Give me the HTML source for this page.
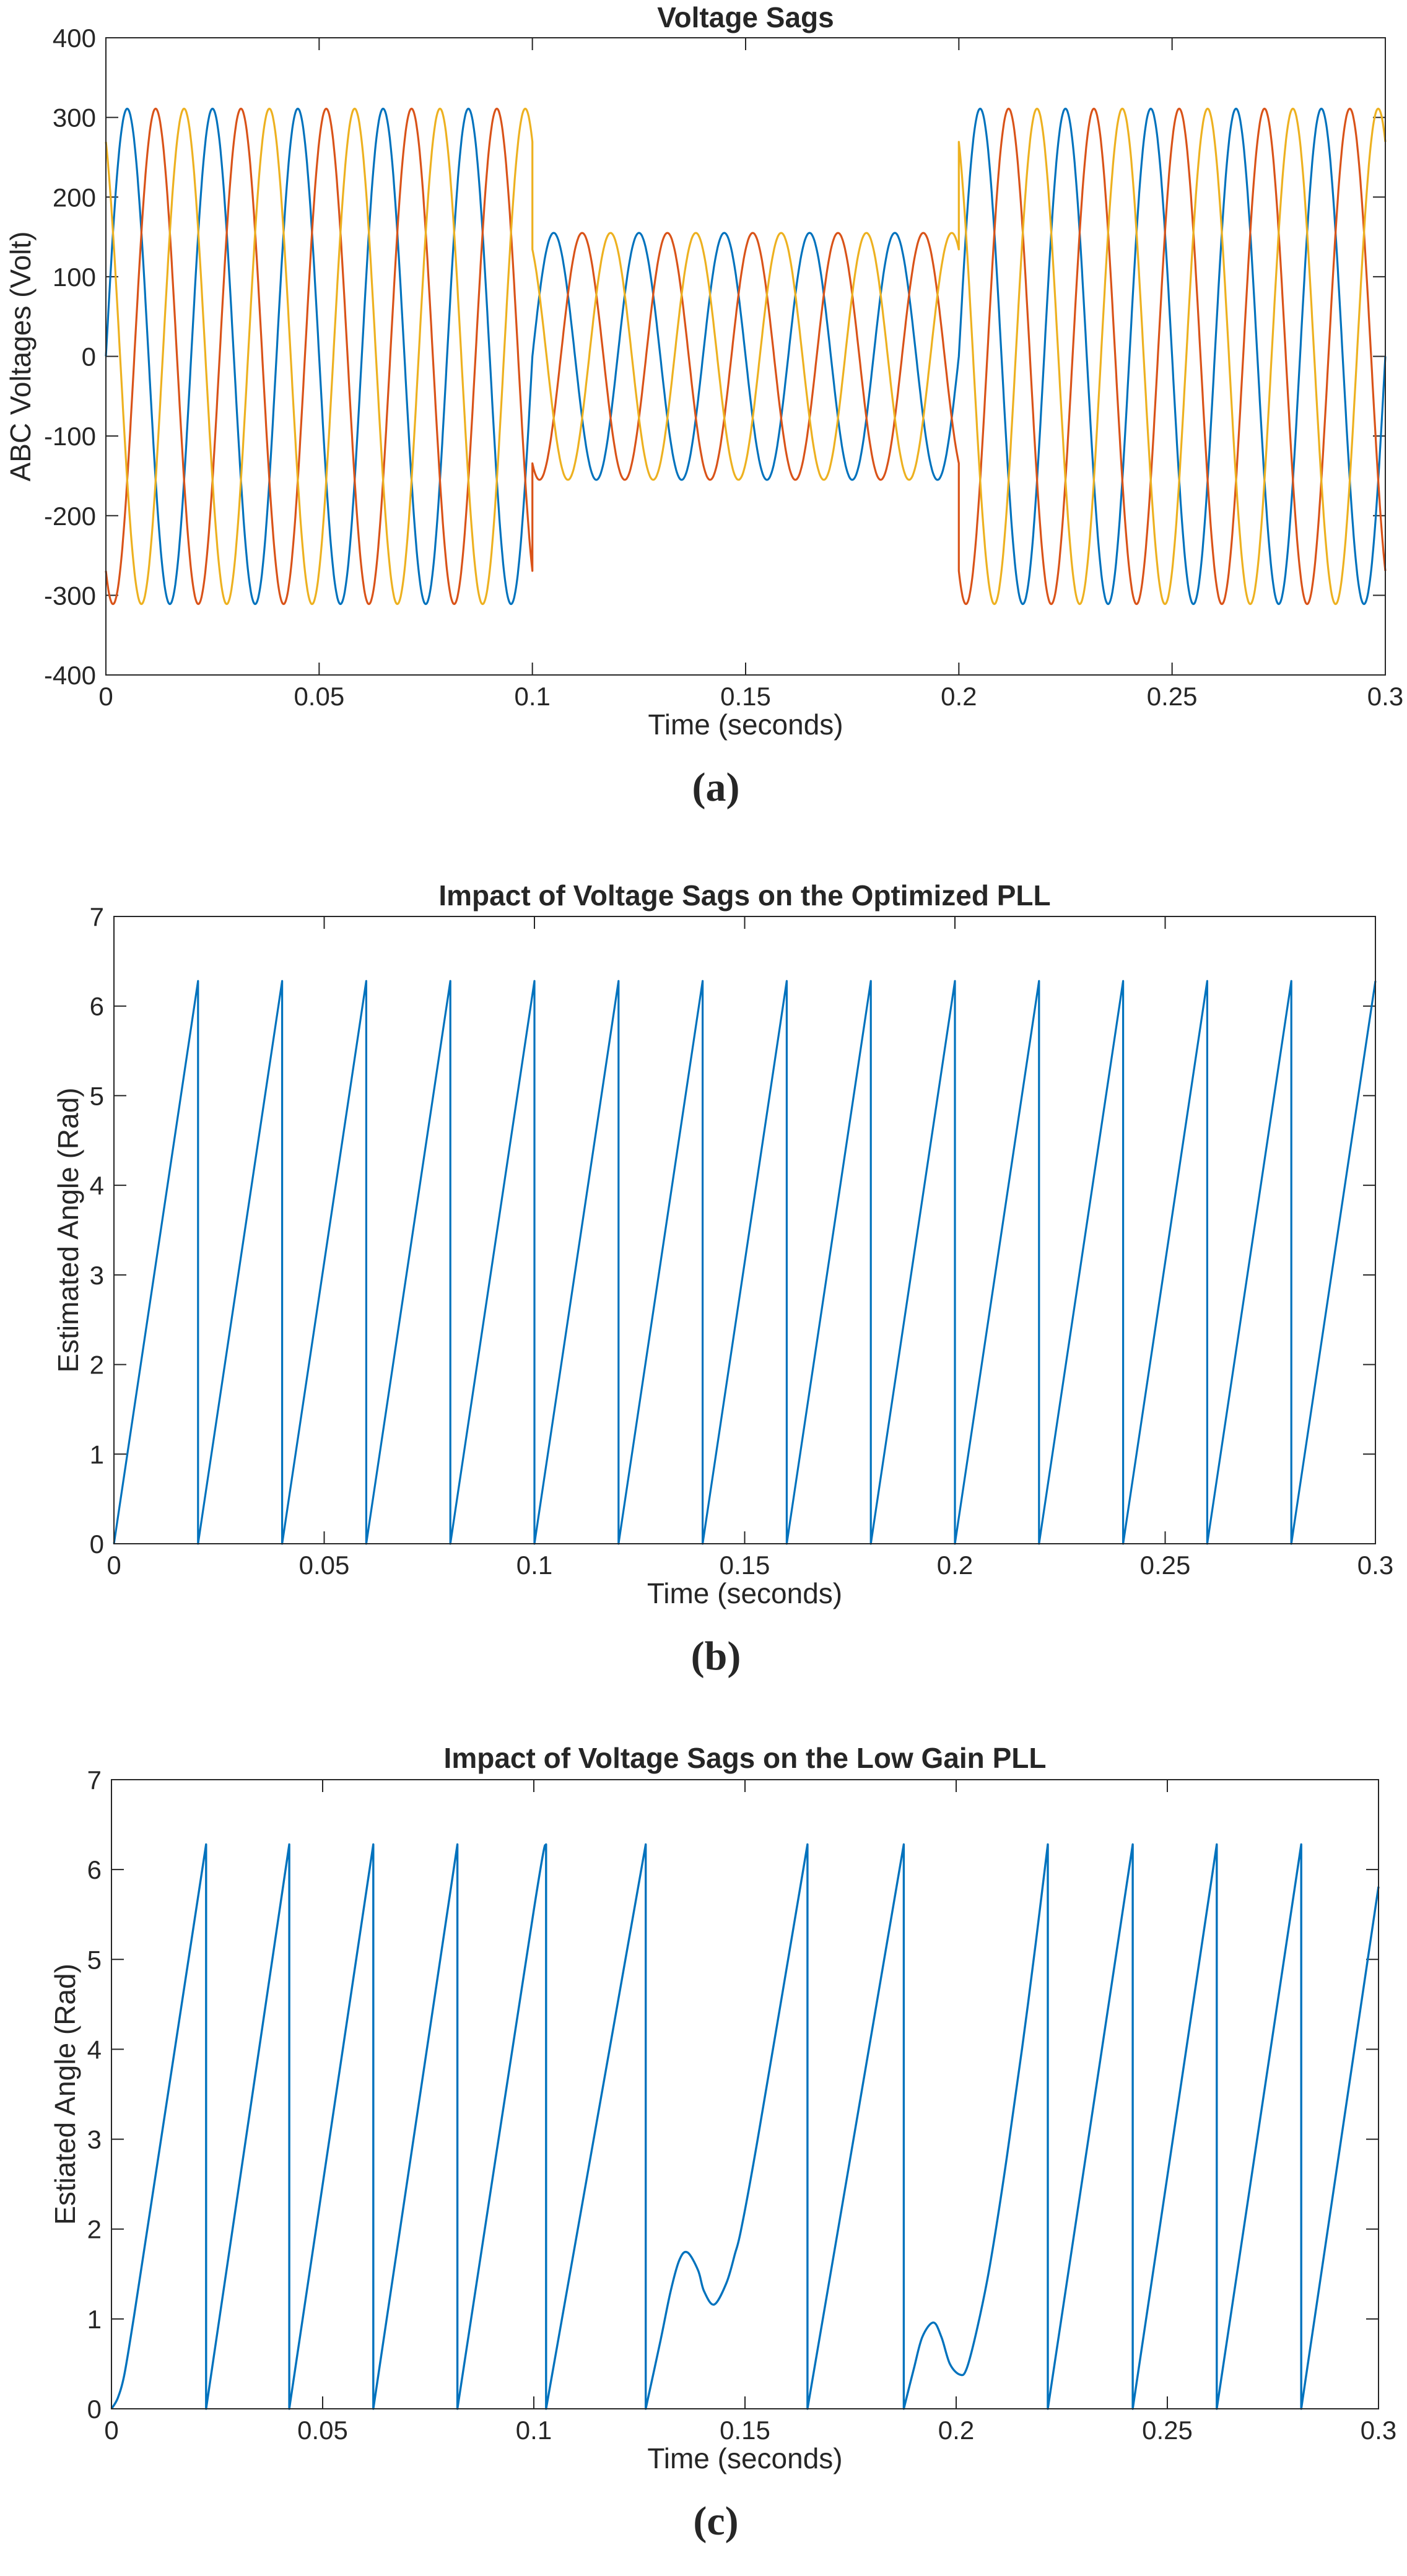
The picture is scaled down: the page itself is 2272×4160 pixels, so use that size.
<!DOCTYPE html>
<html><head><meta charset="utf-8"><style>
html,body{margin:0;padding:0;background:#fff;}
svg{display:block;}
text{font-family:"Liberation Sans",sans-serif;fill:#262626;}
</style></head><body>
<svg id="fig" xmlns="http://www.w3.org/2000/svg" width="2272" height="4160" viewBox="0 0 2272 4160"></svg>
<script>
// ---------- Chart (a) data ----------
const aSegStart = [0, 0.1, 0.2];
const aSegEnd = [0.1, 0.2, 0.3];
const aAmplitude = [311, 155, 311];
const aFreqHz = 50;
const aPhaseNames = ['phase-a', 'phase-b', 'phase-c'];
const aPhaseDeg = [0, -120, 120];
const aYTicks = [-400, -300, -200, -100, 0, 100, 200, 300, 400];
const xTicks = [0, 0.05, 0.1, 0.15, 0.2, 0.25, 0.3];
const xTickLabels = ['0', '0.05', '0.1', '0.15', '0.2', '0.25', '0.3'];
// ---------- Chart (b) data ----------
const bResetTimes = [0.02, 0.04, 0.06, 0.08, 0.1, 0.12, 0.14, 0.16, 0.18, 0.2, 0.22, 0.24, 0.26, 0.28];
const bPeak = 6.28;
const bEndValue = 6.28;
const angTicks = [0, 1, 2, 3, 4, 5, 6, 7];
// ---------- Chart (c) data ----------
const cTimes = [0, 0.0015, 0.003, 0.0049, 0.008, 0.0224, 0.0224, 0.0421, 0.0421, 0.0620, 0.0620, 0.0819, 0.0819, 0.1, 0.1029, 0.1029, 0.1265, 0.1265,
  0.1300, 0.1324, 0.1345, 0.1364, 0.1389, 0.1403, 0.1427, 0.1456, 0.1476, 0.1491, 0.153, 0.1648, 0.1648,
  0.1876, 0.1876, 0.1900, 0.1920, 0.1946, 0.1965, 0.1985, 0.2009, 0.2025, 0.2050, 0.2080, 0.2120, 0.2170, 0.2217, 0.2217,
  0.2418, 0.2418, 0.2617, 0.2617, 0.2817, 0.2817, 0.3];
const cValues = [0, 0.12, 0.37, 0.9, 1.85, 6.28, 0, 6.28, 0, 6.28, 0, 6.28, 0, 5.55, 6.28, 0, 6.28, 0,
  0.76, 1.31, 1.66, 1.74, 1.54, 1.31, 1.16, 1.40, 1.72, 2.0, 3.0, 6.28, 0,
  6.28, 0, 0.45, 0.8, 0.96, 0.8, 0.5, 0.38, 0.45, 0.9, 1.6, 2.8, 4.5, 6.28, 0,
  6.28, 0, 6.28, 0, 6.28, 0, 5.81];

const NS = 'http://www.w3.org/2000/svg';
const fig = document.getElementById('fig');
function el(tag, attrs, parent) {
  const e = document.createElementNS(NS, tag);
  for (const k in attrs) e.setAttribute(k, attrs[k]);
  (parent || fig).appendChild(e);
  return e;
}

function makeAxes(cfg) {
  const g = el('g', {});
  
  
  const X = t => cfg.L + (t - 0) / 0.3 * (cfg.R - cfg.L);
  const Y = v => cfg.B - (v - cfg.ymin) / (cfg.ymax - cfg.ymin) * (cfg.B - cfg.T);
  const title = el('text', {x: (cfg.L + cfg.R) / 2, y: cfg.titleY, 'text-anchor': 'middle', 'font-size': 46, 'font-weight': 'bold', fill: '#000'}, g);
  title.textContent = cfg.title;
  
  
  const tg = el('g', {stroke: '#262626', 'stroke-width': 2}, g);
  xTicks.forEach((t, i) => {
    const x = X(t);
    el('line', {x1: x, y1: cfg.B, x2: x, y2: cfg.B - 20}, tg);
    el('line', {x1: x, y1: cfg.T, x2: x, y2: cfg.T + 20}, tg);
    const lb = el('text', {x: x, y: cfg.B + 35 + 14, 'text-anchor': 'middle', 'font-size': 42}, g);
    lb.textContent = xTickLabels[i];
    
    
  });
  cfg.yticks.forEach(v => {
    const y = Y(v);
    el('line', {x1: cfg.L, y1: y, x2: cfg.L + 20, y2: y}, tg);
    el('line', {x1: cfg.R, y1: y, x2: cfg.R - 20, y2: y}, tg);
    const lb = el('text', {x: cfg.L - 16, y: y + 15, 'text-anchor': 'end', 'font-size': 42}, g);
    lb.textContent = String(v);
    
    
  });
  const xl = el('text', {x: (cfg.L + cfg.R) / 2, y: cfg.B + 96, 'text-anchor': 'middle', 'font-size': 46}, g);
  xl.textContent = 'Time (seconds)';
  
  
  const yc = (cfg.T + cfg.B) / 2;
  const yl = el('text', {x: cfg.ylabX, y: yc, 'text-anchor': 'middle', 'font-size': 46, transform: 'rotate(-90 ' + cfg.ylabX + ' ' + yc + ')', 'dominant-baseline': 'central'}, g);
  yl.textContent = cfg.ylabel;
  
  
  const cap = el('text', {x: 1156, y: cfg.B + 203, 'text-anchor': 'middle', 'font-size': 66, 'font-weight': 'bold', style: 'font-family:"Liberation Serif",serif', fill: '#000'}, g);
  cap.textContent = cfg.caption;
  
  
  return {g, X, Y};
}

function drawBox(cfg, g) {
  const box = el('rect', {x: cfg.L, y: cfg.T, width: cfg.R - cfg.L, height: cfg.B - cfg.T, fill: 'none', stroke: '#262626', 'stroke-width': 2}, g);
  
  
}

// ---------- Panel (a) ----------
const cfgA = {name: 'voltage-sags-chart', L: 171, R: 2237, T: 61, B: 1090, ymin: -400, ymax: 400, yticks: aYTicks, title: 'Voltage Sags', titleY: 44, ylabel: 'ABC Voltages (Volt)', ylabX: 33, caption: '(a)'};
const A = makeAxes(cfgA);
const aColors = ['#0072BD', '#D95319', '#EDB120'];
aPhaseDeg.forEach((ph, p) => {
  let d = '';
  for (let s = 0; s < aSegStart.length; s++) {
    const n = 700;
    for (let k = 0; k <= n; k++) {
      const t = aSegStart[s] + (aSegEnd[s] - aSegStart[s]) * k / n;
      const v = aAmplitude[s] * Math.sin(2 * Math.PI * aFreqHz * t + ph * Math.PI / 180);
      d += (d ? 'L' : 'M') + A.X(t).toFixed(1) + ' ' + A.Y(v).toFixed(1);
    }
  }
  const path = el('path', {d: d, fill: 'none', stroke: aColors[p], 'stroke-width': 3.2, 'stroke-linejoin': 'round'}, A.g);
  
  
});
drawBox(cfgA, A.g);

// ---------- Panel (b) ----------
const cfgB = {name: 'optimized-pll-chart', L: 184, R: 2221, T: 1480, B: 2493, ymin: 0, ymax: 7, yticks: angTicks, title: 'Impact of Voltage Sags on the Optimized PLL', titleY: 1462, ylabel: 'Estimated Angle (Rad)', ylabX: 110, caption: '(b)'};
const Bx = makeAxes(cfgB);
{
  let d = 'M' + Bx.X(0) + ' ' + Bx.Y(0);
  bResetTimes.forEach(t => {
    d += 'L' + Bx.X(t).toFixed(1) + ' ' + Bx.Y(bPeak).toFixed(1);
    d += 'L' + Bx.X(t).toFixed(1) + ' ' + Bx.Y(0).toFixed(1);
  });
  d += 'L' + Bx.X(0.3).toFixed(1) + ' ' + Bx.Y(bEndValue).toFixed(1);
  const path = el('path', {d: d, fill: 'none', stroke: '#0072BD', 'stroke-width': 3.2, 'stroke-linejoin': 'round'}, Bx.g);
  
  
}
drawBox(cfgB, Bx.g);

// ---------- Panel (c) ----------
const cfgC = {name: 'low-gain-pll-chart', L: 180, R: 2226, T: 2874, B: 3890, ymin: 0, ymax: 7, yticks: angTicks, title: 'Impact of Voltage Sags on the Low Gain PLL', titleY: 2855, ylabel: 'Estiated Angle (Rad)', ylabX: 105, caption: '(c)'};
const C = makeAxes(cfgC);
{
  // split into continuous runs at resets, smooth each run with Catmull-Rom
  const runs = [];
  let cur = [];
  cTimes.forEach((t, i) => {
    const pt = [C.X(t), C.Y(cValues[i])];
    if (cur.length && t === cTimes[i - 1]) { runs.push(cur); cur = [[cur[cur.length - 1][0], cur[cur.length - 1][1]]]; cur = [pt]; runs[runs.length - 1].push(null); }
    else cur.push(pt);
  });
  runs.push(cur);
  let d = '';
  runs.forEach(run => {
    const pts = run.filter(p => p);
    const hasReset = run[run.length - 1] === null;
    d += (d ? 'L' : 'M') + pts[0][0].toFixed(1) + ' ' + pts[0][1].toFixed(1);
    for (let i = 0; i < pts.length - 1; i++) {
      const p0 = pts[Math.max(0, i - 1)], p1 = pts[i], p2 = pts[i + 1], p3 = pts[Math.min(pts.length - 1, i + 2)];
      const c1 = [p1[0] + (p2[0] - p0[0]) / 6, p1[1] + (p2[1] - p0[1]) / 6];
      const c2 = [p2[0] - (p3[0] - p1[0]) / 6, p2[1] - (p3[1] - p1[1]) / 6];
      d += 'C' + c1[0].toFixed(1) + ' ' + c1[1].toFixed(1) + ' ' + c2[0].toFixed(1) + ' ' + c2[1].toFixed(1) + ' ' + p2[0].toFixed(1) + ' ' + p2[1].toFixed(1);
    }
  });
  const path = el('path', {d: d, fill: 'none', stroke: '#0072BD', 'stroke-width': 3.4, 'stroke-linejoin': 'round'}, C.g);
  
  
}
drawBox(cfgC, C.g);
</script>
</body></html>
